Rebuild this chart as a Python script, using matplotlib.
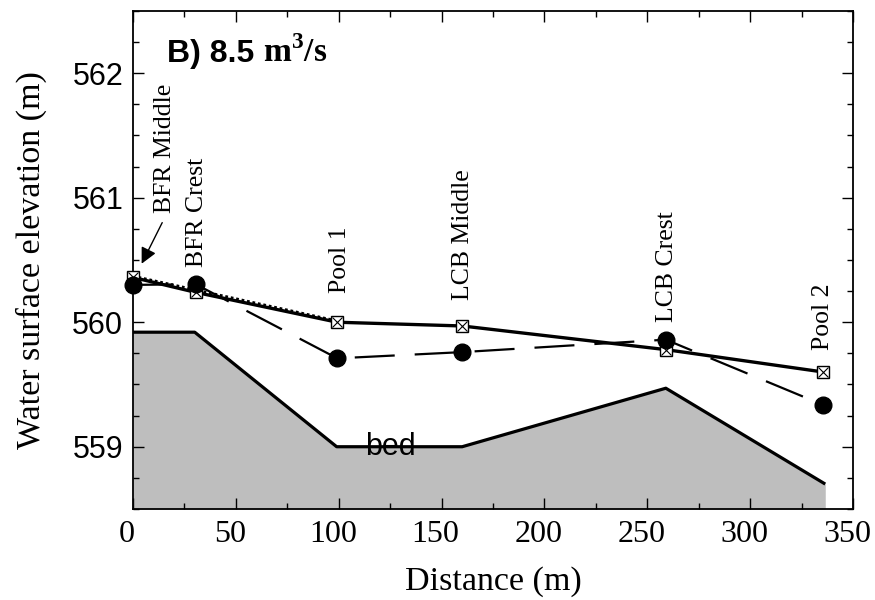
import matplotlib
matplotlib.use('Agg')
import matplotlib.pyplot as plt
import matplotlib.transforms as mtransforms
from matplotlib.ticker import MultipleLocator

plt.rcParams['font.family'] = 'Liberation Serif'
plt.rcParams['mathtext.fontset'] = 'custom'
plt.rcParams['mathtext.rm'] = 'Liberation Serif:bold'
plt.rcParams['mathtext.bf'] = 'Liberation Serif:bold'

SERIF = 'Liberation Serif'
SANS = 'Liberation Sans'

# bed profile
bed_x = [0, 30, 99, 160, 259, 336.5]
bed_z = [559.92, 559.92, 559.0, 559.0, 559.47, 558.70]

# measured stations
sta_x = [0, 30.5, 99.3, 160, 259, 335.6]
sta_names = ['BFR Middle', 'BFR Crest', 'Pool 1', 'LCB Middle', 'LCB Crest', 'Pool 2']
# squares (solid line)
sq_z = [560.36, 560.24, 560.00, 559.97, 559.78, 559.60]
# circles (dashed line)
ci_z = [560.30, 560.305, 559.71, 559.76, 559.86, 559.335]
# dotted line
dot_x = [0, 99.3]
dot_z = [560.37, 560.01]

# label bottoms (elevation where the rotated text starts)
lab_x = [15.6, 30.9, 100.6, 160.5, 259.4, 335.4]
lab_z = [560.88, 560.44, 560.235, 560.18, 560.0, 559.78]

fig = plt.figure(figsize=(8.75, 6), dpi=100)
ax = fig.add_axes([0.152, 0.1517, 0.8229, 0.83])

ax.fill_between(bed_x, bed_z, 558.5, color='#bebebe', lw=0, zorder=1)
ax.plot(bed_x, bed_z, color='black', lw=2.3, zorder=2, solid_capstyle='butt')
ax.text(125.3, 558.93, 'bed', family=SANS, fontsize=22, ha='center', va='baseline', zorder=3)

ax.plot(dot_x, dot_z, color='black', lw=2, ls=(0, (1, 1)), zorder=3)
ax.plot(sta_x, sq_z, color='black', lw=2.4, zorder=4)
ax.plot(sta_x, ci_z, color='black', lw=1.6, ls=(0, (18, 9)), zorder=4)

ax.plot(sta_x, sq_z, ls='none', marker='s', ms=8.5, mfc='white', mec='black', mew=1,
        zorder=5, clip_on=False)
ax.plot(sta_x, sq_z, ls='none', marker='x', ms=6.5, mec='black', mew=0.8,
        zorder=6, clip_on=False)
ax.plot(sta_x, ci_z, ls='none', marker='o', ms=12, mfc='black', mec='black',
        zorder=7, clip_on=False)

for name, x, z in zip(sta_names, lab_x, lab_z):
    ax.text(x, z, name, family=SERIF, fontsize=18.5, rotation=90,
            ha='center', va='bottom', zorder=8)

ax.annotate('', xy=(4.2, 560.47), xytext=(14.2, 560.80),
            arrowprops=dict(arrowstyle='-|>', color='black', lw=1,
                            mutation_scale=24, shrinkA=0, shrinkB=0))

ax.set_xlim(0, 350)
ax.set_ylim(558.5, 562.5)
ax.xaxis.set_major_locator(MultipleLocator(50))
ax.xaxis.set_minor_locator(MultipleLocator(25))
ax.yaxis.set_major_locator(MultipleLocator(1))
ax.yaxis.set_minor_locator(MultipleLocator(0.25))
ax.tick_params(which='both', direction='in', top=True, right=True, width=1)
ax.tick_params(which='major', length=8)
ax.tick_params(which='minor', length=4.5)
ax.tick_params(axis='x', which='major', pad=8, labelsize=23)
ax.tick_params(axis='y', which='major', pad=7, labelsize=22)
for lab in ax.get_yticklabels():
    lab.set_family(SANS)
shift = mtransforms.ScaledTranslation(-6 / 100, 0, fig.dpi_scale_trans)
for lab in ax.get_xticklabels():
    lab.set_family(SERIF)
    lab.set_transform(lab.get_transform() + shift)
for s in ax.spines.values():
    s.set_linewidth(1.3)

ax.set_xlabel('Distance (m)', family=SERIF, fontsize=24.5, labelpad=12)
ax.set_ylabel('Water surface elevation (m)', family=SERIF, fontsize=24.5, labelpad=18)

# panel title: sans bold part followed by serif bold unit on the same baseline
t1 = ax.text(0.047, 0.898, 'B) 8.5 ', transform=ax.transAxes, family=SANS,
             fontweight='bold', fontsize=23, va='baseline', ha='left')
fig.canvas.draw()
w = t1.get_window_extent().width
unit_tr = ax.transAxes + mtransforms.ScaledTranslation(w / fig.dpi, 0, fig.dpi_scale_trans)
ax.text(0.047, 0.898, r'm$^{\mathbf{3}}$/s', transform=unit_tr, family=SERIF,
        fontweight='bold', fontsize=24, va='baseline', ha='left')

fig.savefig('out.png', dpi=100)
